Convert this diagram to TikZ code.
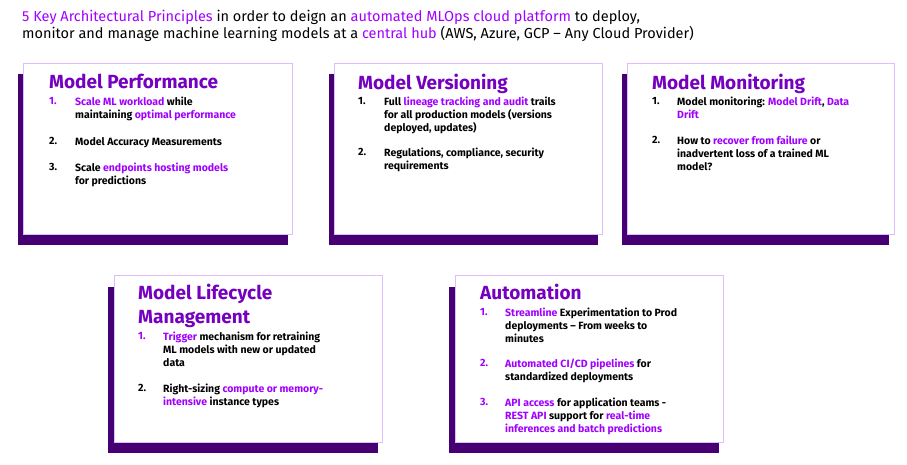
\documentclass[tikz,border=0pt]{standalone}
\usepackage{fontspec}
\setmainfont{Fira Sans}
\definecolor{hi}{HTML}{A100FF}
\definecolor{hd}{HTML}{7500C0}
\definecolor{sh}{HTML}{460073}
\definecolor{bd}{HTML}{DCBEFF}
\newcommand{\hl}[1]{\textcolor{hi}{#1}}
\begin{document}
\begin{tikzpicture}[x=1pt,y=-1pt,
  card/.style={draw=bd,fill=white,line width=0.8pt},
  shadow/.style={fill=sh},
  head/.style={anchor=north west,inner sep=0,font=\fontsize{19}{24}\selectfont\bfseries,text=hd,align=left},
  num/.style={anchor=north west,inner sep=0,font=\fontsize{10.5}{13}\selectfont\bfseries},
  item/.style={anchor=north west,inner sep=0,font=\fontsize{10.5}{13}\selectfont\bfseries,align=left}]
\useasboundingbox (0,0) rectangle (907,464);
\node[anchor=north west,inner sep=0,align=left,font=\fontsize{14.5}{16.5}\selectfont] (title) at (22,10)
 {\hl{5 Key Architectural Principles} in order to deign an \hl{automated MLOps cloud platform} to deploy,\\
 monitor and manage machine learning models at a \hl{central hub} (AWS, Azure, GCP -- Any Cloud Provider)};
% card 1
\fill[shadow] (18,74) rectangle (288,245);
\draw[card] (23,63) rectangle (292,234);
\node[head] (h1) at (49,74) {Model Performance};
\node[num,text=hi] (n11) at (49,97) {1.};
\node[item] (t11) at (75,97) {\hl{Scale ML workload} while\\maintaining \hl{optimal performance}};
\node[num] (n12) at (49,137) {2.};
\node[item] (t12) at (75,137) {Model Accuracy Measurements};
\node[num] (n13) at (49,163) {3.};
\node[item] (t13) at (75,163) {Scale \hl{endpoints hosting models}\\for predictions};
% card 2
\fill[shadow] (329,74) rectangle (598,245);
\draw[card] (334,63) rectangle (602,234);
\node[head] (h2) at (358,74) {Model Versioning};
\node[num] (n21) at (358,97) {1.};
\node[item] (t21) at (384,97) {Full \hl{lineage tracking and audit} trails\\for all production models (versions\\deployed, updates)};
\node[num] (n22) at (358,148) {2.};
\node[item] (t22) at (384,148) {Regulations, compliance, security\\requirements};
% card 3
\fill[shadow] (622,74) rectangle (889,245);
\draw[card] (627,63) rectangle (894,234);
\node[head] (h3) at (652,74) {Model Monitoring};
\node[num] (n31) at (652,97) {1.};
\node[item] (t31) at (677,97) {Model monitoring: \hl{Model Drift}, \hl{Data}\\\hl{Drift}};
\node[num] (n32) at (652,136) {2.};
\node[item] (t32) at (677,136) {How to \hl{recover from failure} or\\inadvertent loss of a trained ML\\model?};
% card 4
\fill[shadow] (108,287) rectangle (378,453);
\draw[card] (114,275) rectangle (382,442);
\node[head] (h4) at (138,284) {Model Lifecycle\\Management};
\node[num,text=hi] (n41) at (138,332) {1.};
\node[item] (t41) at (163,332) {\hl{Trigger} mechanism for retraining\\ML models with new or updated\\data};
\node[num] (n42) at (138,384) {2.};
\node[item] (t42) at (163,384) {Right-sizing \hl{compute or memory-}\\\hl{intensive} instance types};
% card 5
\fill[shadow] (449,287) rectangle (719,453);
\draw[card] (455,275) rectangle (723,442);
\node[head] (h5) at (480,284) {Automation};
\node[num,text=hi] (n51) at (480,308) {1.};
\node[item] (t51) at (505,308) {\hl{Streamline} Experimentation to Prod\\deployments -- From weeks to\\minutes};
\node[num,text=hi] (n52) at (480,359) {2.};
\node[item] (t52) at (505,359) {\hl{Automated CI/CD pipelines} for\\standardized deployments};
\node[num,text=hi] (n53) at (480,398) {3.};
\node[item] (t53) at (505,398) {\hl{API access} for application teams -\\\hl{REST API} support for \hl{real-time}\\\hl{inferences and batch predictions}};
\end{tikzpicture}
\end{document}
